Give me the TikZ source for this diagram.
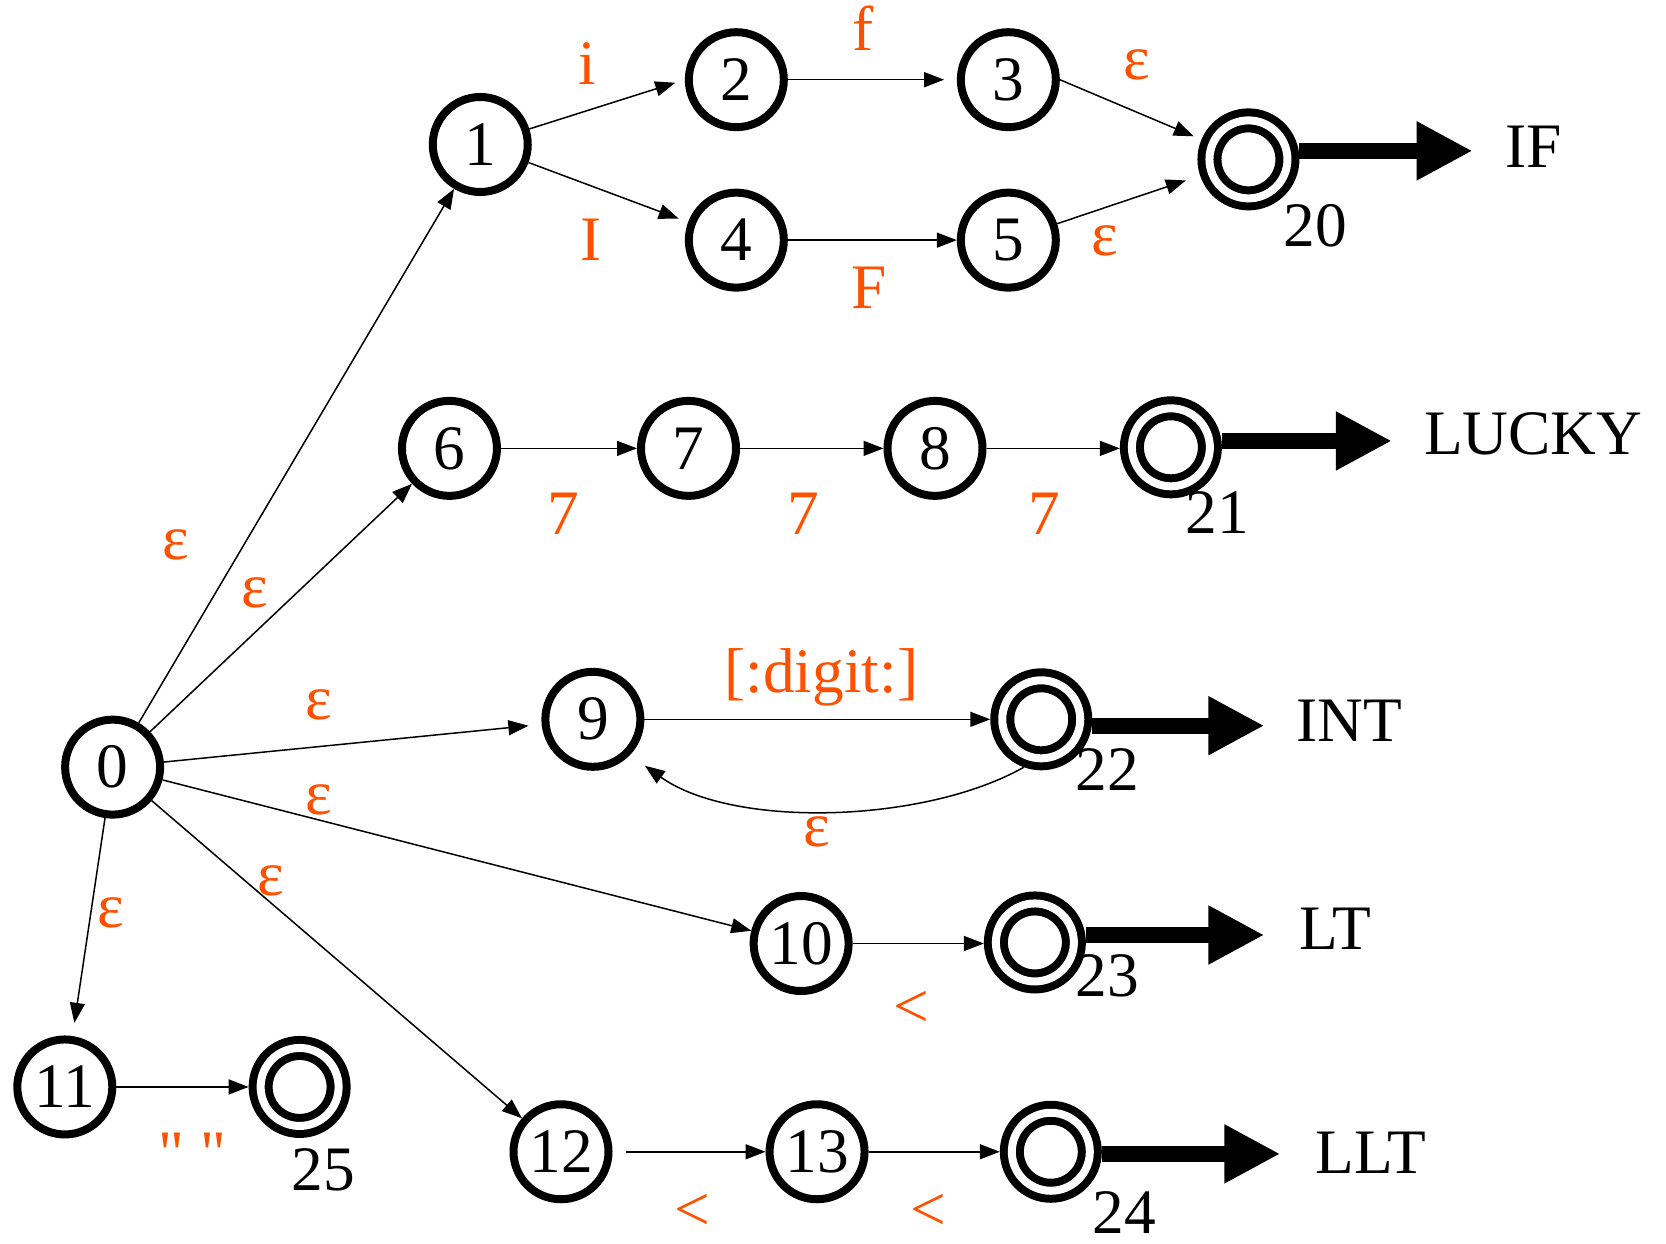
\documentclass[tikz,border=0pt]{standalone}
\usepackage{fontspec}
\setmainfont{Liberation Serif}
\newfontfamily\plainquote{Liberation Serif}[Ligatures=TeXOff]
\usetikzlibrary{arrows.meta}
\definecolor{orangelab}{RGB}{255,80,0}
\begin{document}
\begin{tikzpicture}[x=0.31875pt,y=-0.31875pt,
  every node/.style={font=\fontsize{19}{22}\selectfont},
  st/.style={circle,draw,line width=2.4pt,minimum size=28.5pt,inner sep=0pt},
  acc/.style={circle,draw,line width=2.4pt,double,double distance=2.4pt,minimum size=23.4pt,inner sep=0pt,outer sep=3.6pt},
  trans/.style={line width=0.45pt,-{Triangle[length=6pt,width=4.5pt]}},
  exitarrow/.style={line width=4.8pt,-{Triangle[length=16.8pt,width=16.5pt]}},
  lbl/.style={text=orangelab,anchor=base,inner sep=0pt},
  toklab/.style={anchor=base,inner sep=0pt}]
\useasboundingbox (0,0) rectangle (1568,1170);

% states
\node[st] (n0) at (106,722) {0};
\node[st] (n1) at (452,136) {1};
\node[st] (n2) at (693,75) {2};
\node[st] (n3) at (949,75) {3};
\node[st] (n4) at (693,226) {4};
\node[st] (n5) at (949,226) {5};
\node[acc] (n20) at (1175,150) {};
\node[st] (n6) at (423,422) {6};
\node[st] (n7) at (648,422) {7};
\node[st] (n8) at (880,422) {8};
\node[acc] (n21) at (1102,421) {};
\node[st] (n9) at (558,677) {9};
\node[acc] (n22) at (980,677) {};
\node[st] (n10) at (754,888) {10};
\node[acc] (n23) at (974,887) {};
\node[st] (n11) at (61,1023) {11};
\node[acc] (n25) at (282,1023) {};
\node[st] (n12) at (528,1084) {12};
\node[st] (n13) at (769,1084) {13};
\node[acc] (n24) at (989,1084) {};

% state numbers of accepting states
\node[toklab] (s20) at (1238,232) {20};
\node[toklab] (s21) at (1146,502) {21};
\node[toklab] (s22) at (1042,744) {22};
\node[toklab] (s23) at (1042,938) {23};
\node[toklab] (s24) at (1058,1161) {24};
\node[toklab] (s25) at (304,1120) {25};

% token names
\coordinate (t20) at (1386,142);
\coordinate (t21) at (1310,415);
\coordinate (t22) at (1190,683);
\coordinate (t23) at (1190,880);
\coordinate (t24) at (1205,1086);
\node[toklab] (kIF) at (1443,158) {IF};
\node[toklab] (kLUCKY) at (1443,428) {LUCKY};
\node[toklab] (kINT) at (1270,698) {INT};
\node[toklab] (kLT) at (1257,894) {LT};
\node[toklab] (kLLT) at (1290,1104) {LLT};

\draw[exitarrow] (n20.east |- t20) -- (t20);
\draw[exitarrow] (n21.east |- t21) -- (t21);
\draw[exitarrow] (n22.east |- t22) -- (t22);
\draw[exitarrow] (n23.east |- t23) -- (t23);
\draw[exitarrow] (n24.east |- t24) -- (t24);

% transitions
\draw[trans] (n0) -- (n1);
\draw[trans] (n0) -- (n6);
\draw[trans,shorten >=4pt] (n0) -- (n9);
\draw[trans] (n0) -- (n10);
\draw[trans] (n0) -- (n12);
\draw[trans,shorten >=4pt] (n0) -- (n11);
\draw[trans,shorten >=3pt] (n1) -- (n2.west);
\draw[trans,shorten >=3pt] (n1) -- (n4);
\draw[trans,shorten >=3.8pt] (n2) -- (n3);
\draw[trans] (n4) -- (n5);
\draw[trans,shorten >=2.5pt] (n3.east) -- (n20);
\draw[trans,shorten >=4.5pt] (n5) -- (n20);
\draw[trans] (n6) -- (n7);
\draw[trans] (n7) -- (n8);
\draw[trans] (n8.east) -- (n8.east -| n21.west);
\draw[trans] (n9) -- (n22);
\draw[trans,shorten >=5.5pt] (n22.-110) .. controls (870,775) and (690,780) .. (n9.-44);
\draw[trans] (n10.east) -- (n10.east -| n23.west);
\draw[trans] (n11) -- (n25);
\draw[trans,shorten <=4pt] (n12) -- (n13);
\draw[trans] (n13) -- (n24);

% transition labels
\node[lbl] (l12) at (553,80) {i};
\node[lbl] (l14) at (556,245) {I};
\node[lbl] (l23) at (812,48) {f};
\node[lbl] (l45) at (818,290) {F};
\node[lbl] (l320) at (1070,75) {ε};
\node[lbl] (l520) at (1040,240) {ε};
\node[lbl] (l01) at (165,527) {ε};
\node[lbl] (l06) at (240,572) {ε};
\node[lbl] (l09) at (300,677) {ε};
\node[lbl] (l010) at (300,767) {ε};
\node[lbl] (l012) at (255,843) {ε};
\node[lbl] (l011) at (104,873) {ε};
\node[lbl] (l67) at (530,503) {7};
\node[lbl] (l78) at (756,503) {7};
\node[lbl] (l821) at (983,503) {7};
\node[lbl] (l922) at (773,652) {[:digit:]};
\node[lbl] (l229) at (769,797) {ε};
\node[lbl] (l1023) at (858,967) {<};
\node[lbl] (l1125) at (181,1105) {\plainquote " "};
\node[lbl] (l1213) at (652,1158) {<};
\node[lbl] (l1324) at (874,1158) {<};
\end{tikzpicture}
\end{document}
